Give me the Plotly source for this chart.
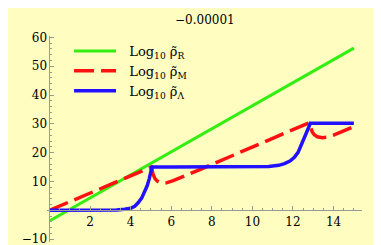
import plotly.graph_objects as go

# Green: Log10 rho_R
x_R = [0, 15]
y_R = [-3.7, 56.3]

# Red dashed: Log10 rho_M
x_M = [0, 5.03, 5.1, 5.2, 5.3, 5.45, 5.6, 5.8, 6.1, 6.5, 7.0, 7.5, 8.0, 8.8, 10.0, 11.0, 12.0, 12.81,
       12.88, 12.95, 13.05, 13.2, 13.45, 13.7, 14.0, 14.3, 14.6, 15.0]
y_M = [0, 15.0, 12.6, 11.0, 10.2, 9.6, 9.4, 9.6, 10.3, 11.4, 12.9, 14.4, 15.9, 18.4, 22.0, 25.0, 28.0, 30.4,
       28.6, 27.2, 26.2, 25.5, 25.2, 25.4, 26.1, 27.0, 27.9, 29.1]

# Blue: Log10 rho_Lambda
x_L = [0, 1, 2, 2.8, 3.3, 3.7, 4.0, 4.2, 4.37, 4.55, 4.7, 4.82, 4.92, 5.0, 5.05, 6, 8, 10, 10.8, 11.3,
       11.58, 11.85, 12.07, 12.25, 12.4, 12.55, 12.64, 12.74, 12.85, 13.5, 15]
y_L = [0, 0, 0, 0.05, 0.15, 0.35, 0.7, 1.4, 2.6, 4.3, 6.5, 8.6, 11.0, 13.5, 15.0, 15.0, 15.0, 15.0, 15.2, 15.6,
       16.2, 17.1, 18.4, 20.1, 22.4, 24.6, 26.3, 28.2, 30.2, 30.2, 30.2]

leg_R = "\u00a0\u00a0Log<sub>10</sub> ρ̃<sub>R</sub>"
leg_M = "\u00a0\u00a0Log<sub>10</sub> ρ̃<sub>M</sub>"
leg_L = "\u00a0\u00a0Log<sub>10</sub> ρ̃<sub>Λ</sub>"
title_text = "−0.00001"
x_label = "x"
x_label_pos = [16.05]
y_label_pos = [0.6]

x_ticks = [2, 4, 6, 8, 10, 12, 14]
y_ticks = [-10, 10, 20, 30, 40, 50, 60]
y_tick_text = ["−10", "10", "20", "30", "40", "50", "60"]

xr = [-0.12, 15.4]
yr = [-11, 60.5]

font = "DejaVu Serif"

fig = go.Figure()
fig.add_trace(go.Scatter(x=x_R, y=y_R, mode="lines", name=leg_R,
                         line=dict(color="#33ee11", width=3)))
fig.add_trace(go.Scatter(x=x_M, y=y_M, mode="lines", name=leg_M,
                         line=dict(color="#ff1111", width=3.5, dash="20px,7px")))
fig.add_trace(go.Scatter(x=x_L, y=y_L, mode="lines", name=leg_L,
                         line=dict(color="#2211ff", width=3.5)))
fig.add_trace(go.Scatter(x=x_label_pos, y=y_label_pos, mode="text", text=[x_label],
                         textposition="middle center", cliponaxis=False, showlegend=False,
                         hoverinfo="skip",
                         textfont=dict(family=font, size=14, color="black")))

fig.update_layout(
    width=381, height=245,
    margin=dict(l=39, r=27, t=28, b=7),
    paper_bgcolor="#FFFDC0", plot_bgcolor="#FFFDC0",
    font=dict(family=font, size=12, color="black"),
    showlegend=True,
    legend=dict(x=0.07, y=1.0, xanchor="left", yanchor="top",
                bgcolor="rgba(0,0,0,0)", font=dict(family=font, size=13),
                tracegroupgap=0, itemwidth=42),
    xaxis=dict(range=xr, anchor="free", position=(0 - yr[0]) / (yr[1] - yr[0]),
               showgrid=False, zeroline=False, showline=True, linecolor="#999999", linewidth=1,
               tickmode="array", tickvals=x_ticks, ticks="inside", ticklen=4, tickcolor="#999999",
               minor=dict(dtick=0.5, ticks="inside", ticklen=2, tickcolor="#999999", showgrid=False),
               tickfont=dict(family=font, size=12)),
    yaxis=dict(range=yr, anchor="free", position=(0 - xr[0]) / (xr[1] - xr[0]),
               showgrid=False, zeroline=False, showline=True, linecolor="#999999", linewidth=1,
               tickmode="array", tickvals=y_ticks, ticktext=y_tick_text, ticks="inside", ticklen=4,
               tickcolor="#999999",
               minor=dict(dtick=2, ticks="inside", ticklen=2, tickcolor="#999999", showgrid=False),
               tickfont=dict(family=font, size=12)),
    annotations=[
        dict(text=title_text, xref="paper", yref="paper", x=0.5, y=1.0, yshift=16,
             showarrow=False, font=dict(family=font, size=12), xanchor="center", yanchor="middle"),
    ],
)

fig.write_html("out.html")
